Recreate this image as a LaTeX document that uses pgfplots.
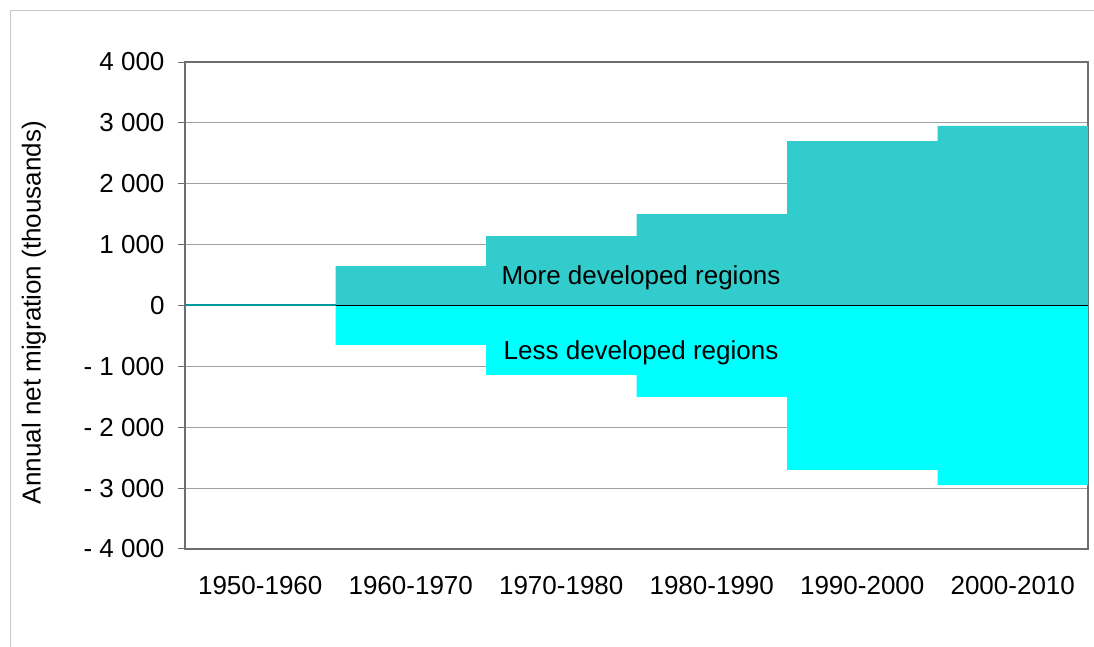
\documentclass[border=0pt]{standalone}
\usepackage{pgfplots}
\pgfplotsset{compat=1.18}
\usepackage{fontspec}
\setmainfont{Liberation Sans}
\definecolor{moredev}{RGB}{51,204,204}
\definecolor{lessdev}{RGB}{0,255,255}
\definecolor{zeroteal}{RGB}{0,153,153}
\definecolor{gridc}{RGB}{160,160,160}
\definecolor{axisc}{RGB}{110,110,110}
\definecolor{framec}{RGB}{200,200,200}
\newcommand\bigfont{\fontsize{26bp}{31bp}\selectfont}
\begin{document}
\begin{tikzpicture}
\path[use as bounding box] (0,0) rectangle (1094bp,647bp);
\draw[framec, line width=1bp] (10.5bp,0) -- (10.5bp,636.5bp) -- (1094bp,636.5bp);
\begin{axis}[
  at={(185bp,98bp)}, anchor=south west,
  scale only axis, width=903bp, height=487bp,
  xmin=-0.5, xmax=5.5, ymin=-4000, ymax=4000,
  xtick={0,...,5},
  xticklabels={1950-1960,1960-1970,1970-1980,1980-1990,1990-2000,2000-2010},
  ytick={-4000,-3000,...,4000},
  yticklabels={- 4 000,- 3 000,- 2 000,- 1 000,0,1 000,2 000,3 000,4 000},
  ymajorgrids, major grid style={gridc, line width=1bp},
  tick label style={font=\bigfont},
  yticklabel style={xshift=-10bp},
  xticklabel style={yshift=-17bp},
  axis line style={axisc, line width=1.5bp},
  tick align=outside,
  ytick pos=left,
  ytick style={axisc, line width=1bp},
  xtick style={draw=none},
  major tick length=7bp,
]
\addplot[ybar, bar width=1, bar shift=0pt, fill=moredev, draw=none]
  coordinates {(0,0) (1,645) (2,1140) (3,1500) (4,2700) (5,2950)};
\addplot[ybar, bar width=1, bar shift=0pt, fill=lessdev, draw=none]
  coordinates {(0,0) (1,-645) (2,-1140) (3,-1500) (4,-2700) (5,-2950)};
\addplot[black, line width=0.8bp] coordinates {(0.5,0) (5.5,0)};
\addplot[zeroteal, line width=2bp] coordinates {(-0.5,0) (0.5,0)};
\node[font=\bigfont] at (axis cs:2.53,461) {More developed regions};
\node[font=\bigfont] at (axis cs:2.53,-774) {Less developed regions};
\end{axis}
\node[font=\bigfont, rotate=90] at (34bp,334.5bp) {Annual net migration (thousands)};
\end{tikzpicture}
\end{document}
